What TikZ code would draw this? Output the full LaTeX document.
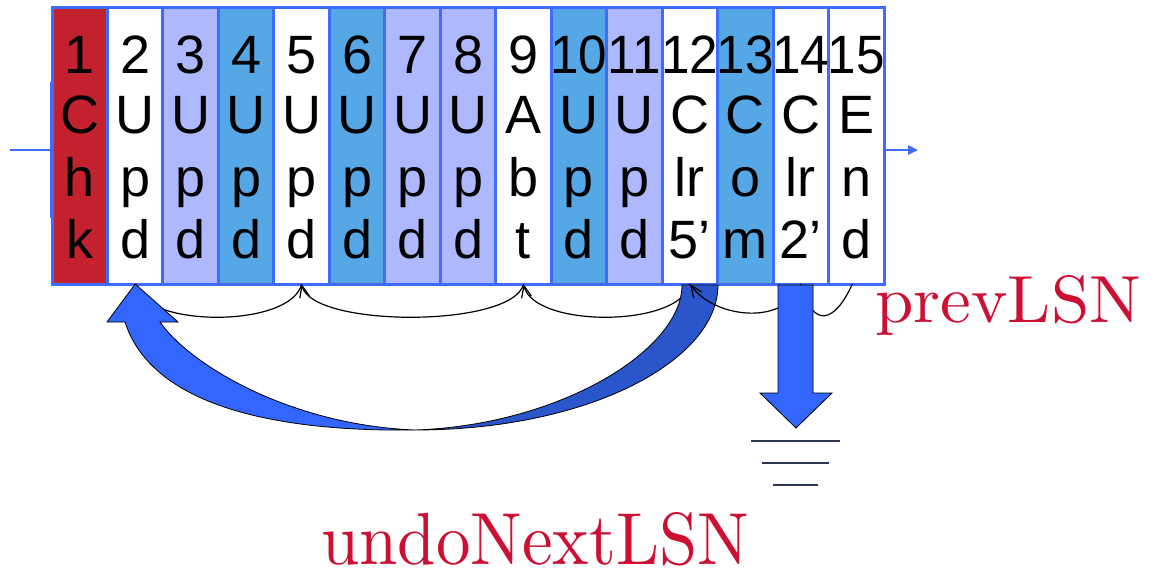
\documentclass[tikz,border=0pt]{standalone}
\usepackage{fontspec}
\usetikzlibrary{arrows.meta,calc}
\newfontfamily\cellfont{Liberation Sans}
\definecolor{rim}{HTML}{3F6BFF}
\definecolor{chk}{HTML}{C4212E}
\definecolor{lav}{HTML}{AEB8FF}
\definecolor{mid}{HTML}{55A8E5}
\definecolor{front}{HTML}{3366FF}
\definecolor{back}{HTML}{2A55CB}
\definecolor{lsnred}{HTML}{CC1034}
\definecolor{earth}{HTML}{2B3450}
% two-digit record numbers are set a little tighter
\newcommand{\tw}[1]{\scalebox{0.95}[1]{#1}}

\begin{document}
\begin{tikzpicture}[x=1pt,y=-1pt,
  cell/.style={draw=rim, line width=3pt, minimum width=55.47pt, minimum height=276.5pt, inner sep=0pt, outer sep=0pt},
  glyph/.style={font=\cellfont\fontsize{54}{54}\selectfont, anchor=base, inner sep=0pt},
  prev/.style={line width=1.2pt, -{Straight Barb[length=12pt,width=10pt]}},
  flow/.style={draw=rim, line width=2.5pt},
  block/.style={draw=black, line width=0.8pt},
  lsn/.style={text=lsnred, anchor=base west, inner sep=0pt}]

\useasboundingbox (0,0) rectangle (1154,570);

% log records
\foreach \i/\fc in {1/chk, 2/white, 3/lav, 4/mid, 5/white, 6/mid, 7/lav, 8/lav,
                    9/white, 10/mid, 11/lav, 12/white, 13/mid, 14/white, 15/white} {
  \pgfmathsetmacro\cx{52+55.47*(\i-0.5)}
  \node[cell, fill=\fc] (c\i) at (\cx,145.75) {};
}
\foreach \i/\a/\b/\c/\d in {1/1/C/h/k, 2/2/U/p/d, 3/3/U/p/d, 4/4/U/p/d, 5/5/U/p/d,
                            6/6/U/p/d, 7/7/U/p/d, 8/8/U/p/d, 9/9/A/b/t,
                            10/\tw{10}/U/p/d, 11/\tw{11}/U/p/d, 12/\tw{12}/C/lr/5’,
                            13/\tw{13}/C/o/m, 14/\tw{14}/C/lr/2’, 15/\tw{15}/E/n/d} {
  \pgfmathsetmacro\cx{52+55.47*(\i-0.5)}
  \node[glyph] (n\i) at (\cx,73)    {\a};
  \node[glyph] (u\i) at (\cx,133.5) {\b};
  \node[glyph] (v\i) at (\cx,196)   {\c};
  \node[glyph] (w\i) at (\cx,258)   {\d};
}

% log stream in and out
\coordinate (src) at (10,150);
\coordinate (snk) at (918,150);
\draw[flow] (src) -- (src -| c1.west);
\draw[rim, line width=3pt] (51,82) -- (51,218);
\draw[flow, -{Triangle[length=10pt,width=9pt]}] (snk -| c15.east) -- (snk);

% prevLSN chain behind the undo arrow
\draw[prev] (c12.south) .. controls +(-10,44) and +(10,44) .. (c9.south);
\draw[prev] (c9.south)  .. controls +(-10,44) and +(10,44) .. (c5.south);
\draw[prev] (c5.south)  .. controls +(-10,44) and +(10,44) .. (c2.south);

% undoNextLSN: curved block arrow from the CLR back to record 2
\coordinate (low) at (415,430);
\path[block, fill=front] (c2.south) -- (178,322) -- (160,322)
  .. controls (190,365) and (290,425) .. (low)
  .. controls (260,432) and (150,400) .. (125,322) -- (107,322) -- cycle;
\path[block, fill=back] (low) .. controls (560,425) and (682,350) .. (682,285)
  -- (718,285) .. controls (718,360) and (590,430) .. (low) -- cycle;

% prevLSN chain in front
\draw[prev] (c14.south) .. controls +(-15,42) and +(25,35) .. (c12.south);
\draw[prev] ($(c15.south)+(-4,0)$) .. controls +(-18,40) and +(12,44) .. (c14.south);

% end of the chain: arrow to ground
\path[block, fill=front] (778,285) -- (778,393) -- (760,393) -- (796,428)
  -- (832,393) -- (813,393) -- (813,285) -- cycle;
\coordinate (gnd) at (796,441);
\draw[earth, line width=2pt] ($(gnd)+(-45,0)$) -- ($(gnd)+(44,0)$);
\draw[earth, line width=2pt] ($(gnd)+(-34,22)$) -- ($(gnd)+(33,22)$);
\draw[earth, line width=2pt] ($(gnd)+(-23,44)$) -- ($(gnd)+(22,44)$);

% labels
\node[lsn] (plsn) at (875,322) {\resizebox{266pt}{47pt}{prevLSN}};
\node[lsn] (ulsn) at (321,564) {\resizebox{428pt}{52pt}{undoNextLSN}};
\end{tikzpicture}
\end{document}
